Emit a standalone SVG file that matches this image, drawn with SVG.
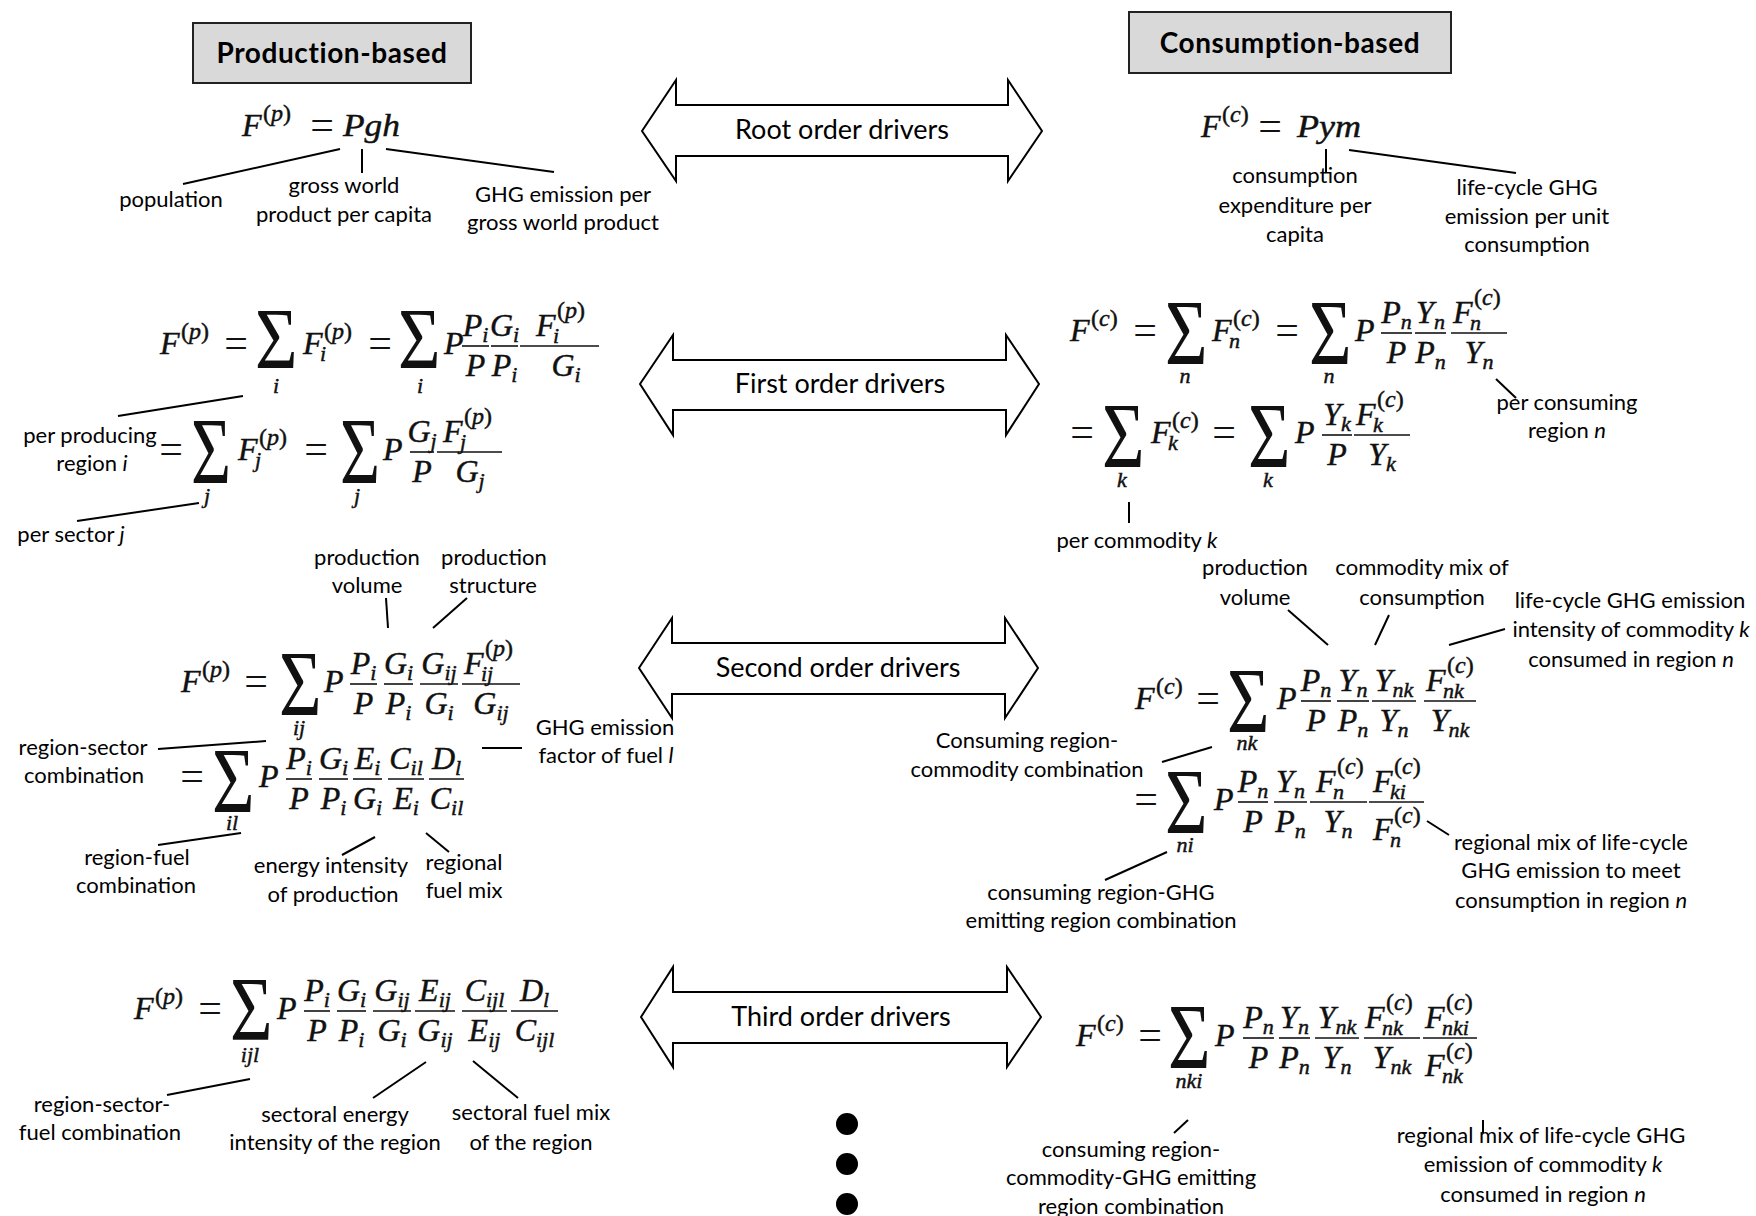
<svg xmlns="http://www.w3.org/2000/svg" width="1756" height="1216" viewBox="0 0 1756 1216">
<style>
.lbl{font-family:Lato,"Liberation Sans",sans-serif;font-size:22px;fill:#000;text-anchor:middle}
.hdr{font-family:Lato,"Liberation Sans",sans-serif;font-size:28px;font-weight:bold;letter-spacing:0.6px;fill:#000;text-anchor:middle}
.arw{font-family:Lato,"Liberation Sans",sans-serif;font-size:27px;fill:#000;text-anchor:middle}
.m{font-family:"Liberation Serif",serif;font-style:italic;font-size:32px;fill:#111;stroke:#111;stroke-width:0.45}
.s{font-size:22px}
.sp{font-size:24px}
.u{font-style:normal}
.c{text-anchor:middle}
.eq{font-family:"Liberation Serif",serif;font-size:42px;fill:#111;text-anchor:middle}
.sig{font-family:"Liberation Serif",serif;font-size:86px;fill:#111}
.fl{stroke:#111;stroke-width:1.6}
.ld{stroke:#000;stroke-width:2;fill:none}
.ar{fill:#fff;stroke:#000;stroke-width:2}
.box{fill:#d9d9d9;stroke:#222;stroke-width:2}
.it{font-style:italic}
</style>

<g id="header-production"><rect class="box" x="193" y="23" width="278" height="60"/><text class="hdr" x="332" y="63">Production-based</text></g>
<g id="header-consumption"><rect class="box" x="1129" y="12" width="322" height="61"/><text class="hdr" x="1290" y="53">Consumption-based</text></g>

<g id="arrow-root"><polygon class="ar" points="642,131 676,80 676,105 1008,105 1008,80 1042,131 1008,181 1008,156 676,156 676,181"/><text class="arw" x="842" y="139">Root order drivers</text></g>
<g id="arrow-first"><polygon class="ar" points="640,384 673,335 673,360 1006,360 1006,335 1039,384 1006,435 1006,410 673,410 673,435"/><text class="arw" x="840" y="393">First order drivers</text></g>
<g id="arrow-second"><polygon class="ar" points="639,668 672,618 672,643 1005,643 1005,618 1038,668 1005,718 1005,694 672,694 672,718"/><text class="arw" x="838" y="677">Second order drivers</text></g>
<g id="arrow-third"><polygon class="ar" points="641,1017 673,967 673,992 1007,992 1007,967 1041,1017 1007,1067 1007,1043 673,1043 673,1067"/><text class="arw" x="841" y="1026">Third order drivers</text></g>

<g id="ellipsis"><circle cx="847" cy="1124" r="11"/><circle cx="847" cy="1164" r="11"/><circle cx="847" cy="1204" r="11"/></g>

<g id="f-prod-root">
<text class="m" x="242" y="136">F</text>
<text class="m sp" x="263" y="121"><tspan class="u">(</tspan>p<tspan class="u">)</tspan></text>
<text class="eq" x="322" y="139">=</text>
<text class="m" x="343" y="136" textLength="57" lengthAdjust="spacingAndGlyphs">Pgh</text>
</g>
<g id="f-cons-root">
<text class="m" x="1201" y="137">F</text>
<text class="m sp" x="1222" y="122"><tspan class="u">(</tspan>c<tspan class="u">)</tspan></text>
<text class="eq" x="1270" y="140">=</text>
<text class="m" x="1297" y="137" textLength="64" lengthAdjust="spacingAndGlyphs">Pym</text>
</g>

<g id="f-prod-first">
<text class="m" x="160" y="354">F</text>
<text class="m sp" x="181" y="339"><tspan class="u">(</tspan>p<tspan class="u">)</tspan></text>
<text class="eq" x="236" y="357">=</text>
<text class="sig" transform="translate(255,368) scale(0.85,1)">Σ</text>
<text class="m s c" x="276" y="393">i</text>
<text class="m" x="303" y="354">F</text>
<text class="m sp" x="324" y="339"><tspan class="u">(</tspan>p<tspan class="u">)</tspan></text>
<text class="m s" x="320" y="361">i</text>
<text class="eq" x="380" y="357">=</text>
<text class="sig" transform="translate(398,368) scale(0.85,1)">Σ</text>
<text class="m s c" x="420" y="393">i</text>
<text class="m" x="444" y="354">P</text>
<line class="fl" x1="462" y1="346" x2="489" y2="346"/>
<text class="m c" x="475.5" y="336">P<tspan class="s" dy="6">i</tspan></text>
<text class="m c" x="475.5" y="376">P</text>
<line class="fl" x1="491" y1="346" x2="518" y2="346"/>
<text class="m c" x="504.5" y="336">G<tspan class="s" dy="6">i</tspan></text>
<text class="m c" x="504.5" y="376">P<tspan class="s" dy="6">i</tspan></text>
<line class="fl" x1="520" y1="346" x2="599" y2="346"/>
<text class="m" x="536" y="336">F</text>
<text class="m sp" x="557" y="318"><tspan class="u">(</tspan>p<tspan class="u">)</tspan></text>
<text class="m s" x="553" y="343">i</text>
<text class="m c" x="566" y="376">G<tspan class="s" dy="6">i</tspan></text>

<text class="eq" x="171" y="463">=</text>
<text class="sig" transform="translate(191,484) scale(0.8,1.1)">Σ</text>
<text class="m s c" x="207" y="503">j</text>
<text class="m" x="238" y="460">F</text>
<text class="m sp" x="259" y="445"><tspan class="u">(</tspan>p<tspan class="u">)</tspan></text>
<text class="m s" x="255" y="467">j</text>
<text class="eq" x="316" y="463">=</text>
<text class="sig" transform="translate(340,484) scale(0.8,1.1)">Σ</text>
<text class="m s c" x="357" y="503">j</text>
<text class="m" x="383" y="460">P</text>
<line class="fl" x1="410" y1="452" x2="434" y2="452"/>
<text class="m c" x="422" y="442">G<tspan class="s" dy="6">j</tspan></text>
<text class="m c" x="422" y="482">P</text>
<line class="fl" x1="437" y1="452" x2="502" y2="452"/>
<text class="m" x="443" y="442">F</text>
<text class="m sp" x="464" y="424"><tspan class="u">(</tspan>p<tspan class="u">)</tspan></text>
<text class="m s" x="460" y="449">j</text>
<text class="m c" x="470" y="482">G<tspan class="s" dy="6">j</tspan></text>
</g>

<g id="f-cons-first">
<text class="m" x="1070" y="341">F</text>
<text class="m sp" x="1091" y="326"><tspan class="u">(</tspan>c<tspan class="u">)</tspan></text>
<text class="eq" x="1145" y="344">=</text>
<text class="sig" transform="translate(1165,364) scale(0.85,1.08)">Σ</text>
<text class="m s c" x="1185" y="383">n</text>
<text class="m" x="1212" y="341">F</text>
<text class="m sp" x="1233" y="326"><tspan class="u">(</tspan>c<tspan class="u">)</tspan></text>
<text class="m s" x="1229" y="348">n</text>
<text class="eq" x="1287" y="344">=</text>
<text class="sig" transform="translate(1309,364) scale(0.85,1.08)">Σ</text>
<text class="m s c" x="1329" y="383">n</text>
<text class="m" x="1355" y="341">P</text>
<line class="fl" x1="1381" y1="333" x2="1412" y2="333"/>
<text class="m c" x="1396.5" y="323">P<tspan class="s" dy="6">n</tspan></text>
<text class="m c" x="1396.5" y="363">P</text>
<line class="fl" x1="1415" y1="333" x2="1446" y2="333"/>
<text class="m c" x="1430.5" y="323">Y<tspan class="s" dy="6">n</tspan></text>
<text class="m c" x="1430.5" y="363">P<tspan class="s" dy="6">n</tspan></text>
<line class="fl" x1="1451" y1="333" x2="1507" y2="333"/>
<text class="m" x="1453" y="323">F</text>
<text class="m sp" x="1474" y="305"><tspan class="u">(</tspan>c<tspan class="u">)</tspan></text>
<text class="m s" x="1470" y="330">n</text>
<text class="m c" x="1479" y="363">Y<tspan class="s" dy="6">n</tspan></text>

<text class="eq" x="1082" y="446">=</text>
<text class="sig" transform="translate(1102,467) scale(0.85,1.08)">Σ</text>
<text class="m s c" x="1122" y="487">k</text>
<text class="m" x="1151" y="443">F</text>
<text class="m sp" x="1172" y="428"><tspan class="u">(</tspan>c<tspan class="u">)</tspan></text>
<text class="m s" x="1168" y="450">k</text>
<text class="eq" x="1224" y="446">=</text>
<text class="sig" transform="translate(1248,467) scale(0.85,1.08)">Σ</text>
<text class="m s c" x="1268" y="487">k</text>
<text class="m" x="1295" y="443">P</text>
<line class="fl" x1="1322" y1="435" x2="1352" y2="435"/>
<text class="m c" x="1337" y="425">Y<tspan class="s" dy="6">k</tspan></text>
<text class="m c" x="1337" y="465">P</text>
<line class="fl" x1="1354" y1="435" x2="1410" y2="435"/>
<text class="m" x="1356" y="425">F</text>
<text class="m sp" x="1377" y="407"><tspan class="u">(</tspan>c<tspan class="u">)</tspan></text>
<text class="m s" x="1373" y="432">k</text>
<text class="m c" x="1382" y="465">Y<tspan class="s" dy="6">k</tspan></text>
</g>

<g id="f-prod-second">
<text class="m" x="181" y="692">F</text>
<text class="m sp" x="202" y="677"><tspan class="u">(</tspan>p<tspan class="u">)</tspan></text>
<text class="eq" x="256" y="695">=</text>
<text class="sig" transform="translate(279,715) scale(0.85,1.08)">Σ</text>
<text class="m s c" x="299" y="735">ij</text>
<text class="m" x="324" y="692">P</text>
<line class="fl" x1="350" y1="684" x2="377" y2="684"/>
<text class="m c" x="363.5" y="674">P<tspan class="s" dy="6">i</tspan></text>
<text class="m c" x="363.5" y="714">P</text>
<line class="fl" x1="384" y1="684" x2="413" y2="684"/>
<text class="m c" x="398.5" y="674">G<tspan class="s" dy="6">i</tspan></text>
<text class="m c" x="398.5" y="714">P<tspan class="s" dy="6">i</tspan></text>
<line class="fl" x1="420" y1="684" x2="458" y2="684"/>
<text class="m c" x="439" y="674">G<tspan class="s" dy="6">ij</tspan></text>
<text class="m c" x="439" y="714">G<tspan class="s" dy="6">i</tspan></text>
<line class="fl" x1="462" y1="684" x2="520" y2="684"/>
<text class="m" x="464" y="674">F</text>
<text class="m sp" x="485" y="656"><tspan class="u">(</tspan>p<tspan class="u">)</tspan></text>
<text class="m s" x="481" y="681">ij</text>
<text class="m c" x="491" y="714">G<tspan class="s" dy="6">ij</tspan></text>

<text class="eq" x="192" y="790">=</text>
<text class="sig" transform="translate(212,812) scale(0.85,1.08)">Σ</text>
<text class="m s c" x="232" y="830">il</text>
<text class="m" x="259" y="787">P</text>
<line class="fl" x1="286" y1="779" x2="312" y2="779"/>
<text class="m c" x="299" y="769">P<tspan class="s" dy="6">i</tspan></text>
<text class="m c" x="299" y="809">P</text>
<line class="fl" x1="319" y1="779" x2="348" y2="779"/>
<text class="m c" x="333.5" y="769">G<tspan class="s" dy="6">i</tspan></text>
<text class="m c" x="333.5" y="809">P<tspan class="s" dy="6">i</tspan></text>
<line class="fl" x1="353" y1="779" x2="382" y2="779"/>
<text class="m c" x="367.5" y="769">E<tspan class="s" dy="6">i</tspan></text>
<text class="m c" x="367.5" y="809">G<tspan class="s" dy="6">i</tspan></text>
<line class="fl" x1="388" y1="779" x2="424" y2="779"/>
<text class="m c" x="406" y="769">C<tspan class="s" dy="6">il</tspan></text>
<text class="m c" x="406" y="809">E<tspan class="s" dy="6">i</tspan></text>
<line class="fl" x1="429" y1="779" x2="464" y2="779"/>
<text class="m c" x="446.5" y="769">D<tspan class="s" dy="6">l</tspan></text>
<text class="m c" x="446.5" y="809">C<tspan class="s" dy="6">il</tspan></text>
</g>

<g id="f-cons-second">
<text class="m" x="1135" y="709">F</text>
<text class="m sp" x="1156" y="694"><tspan class="u">(</tspan>c<tspan class="u">)</tspan></text>
<text class="eq" x="1208" y="712">=</text>
<text class="sig" transform="translate(1227,732) scale(0.85,1.08)">Σ</text>
<text class="m s c" x="1247" y="750">nk</text>
<text class="m" x="1277" y="709">P</text>
<line class="fl" x1="1301" y1="701" x2="1331" y2="701"/>
<text class="m c" x="1316" y="691">P<tspan class="s" dy="6">n</tspan></text>
<text class="m c" x="1316" y="731">P</text>
<line class="fl" x1="1337" y1="701" x2="1369" y2="701"/>
<text class="m c" x="1353" y="691">Y<tspan class="s" dy="6">n</tspan></text>
<text class="m c" x="1353" y="731">P<tspan class="s" dy="6">n</tspan></text>
<line class="fl" x1="1372" y1="701" x2="1416" y2="701"/>
<text class="m c" x="1394" y="691">Y<tspan class="s" dy="6">nk</tspan></text>
<text class="m c" x="1394" y="731">Y<tspan class="s" dy="6">n</tspan></text>
<line class="fl" x1="1424" y1="701" x2="1476" y2="701"/>
<text class="m" x="1426" y="691">F</text>
<text class="m sp" x="1447" y="673"><tspan class="u">(</tspan>c<tspan class="u">)</tspan></text>
<text class="m s" x="1443" y="698">nk</text>
<text class="m c" x="1450" y="731">Y<tspan class="s" dy="6">nk</tspan></text>

<text class="eq" x="1146" y="813">=</text>
<text class="sig" transform="translate(1165,833) scale(0.85,1.08)">Σ</text>
<text class="m s c" x="1185" y="852">ni</text>
<text class="m" x="1214" y="810">P</text>
<line class="fl" x1="1238" y1="802" x2="1268" y2="802"/>
<text class="m c" x="1253" y="792">P<tspan class="s" dy="6">n</tspan></text>
<text class="m c" x="1253" y="832">P</text>
<line class="fl" x1="1274" y1="802" x2="1307" y2="802"/>
<text class="m c" x="1290.5" y="792">Y<tspan class="s" dy="6">n</tspan></text>
<text class="m c" x="1290.5" y="832">P<tspan class="s" dy="6">n</tspan></text>
<line class="fl" x1="1310" y1="802" x2="1367" y2="802"/>
<text class="m" x="1316" y="792">F</text>
<text class="m sp" x="1337" y="774"><tspan class="u">(</tspan>c<tspan class="u">)</tspan></text>
<text class="m s" x="1333" y="799">n</text>
<text class="m c" x="1338" y="832">Y<tspan class="s" dy="6">n</tspan></text>
<line class="fl" x1="1369" y1="802" x2="1424" y2="802"/>
<text class="m" x="1373" y="792">F</text>
<text class="m sp" x="1394" y="774"><tspan class="u">(</tspan>c<tspan class="u">)</tspan></text>
<text class="m s" x="1390" y="799">ki</text>
<text class="m" x="1373" y="840">F</text>
<text class="m sp" x="1394" y="823"><tspan class="u">(</tspan>c<tspan class="u">)</tspan></text>
<text class="m s" x="1390" y="847">n</text>
</g>

<g id="f-prod-third">
<text class="m" x="134" y="1019">F</text>
<text class="m sp" x="155" y="1004"><tspan class="u">(</tspan>p<tspan class="u">)</tspan></text>
<text class="eq" x="210" y="1022">=</text>
<text class="sig" transform="translate(230,1040) scale(0.85,1.05)">Σ</text>
<text class="m s c" x="250" y="1062">ijl</text>
<text class="m" x="277" y="1019">P</text>
<line class="fl" x1="304" y1="1011" x2="330" y2="1011"/>
<text class="m c" x="317" y="1001">P<tspan class="s" dy="6">i</tspan></text>
<text class="m c" x="317" y="1041">P</text>
<line class="fl" x1="337" y1="1011" x2="366" y2="1011"/>
<text class="m c" x="351.5" y="1001">G<tspan class="s" dy="6">i</tspan></text>
<text class="m c" x="351.5" y="1041">P<tspan class="s" dy="6">i</tspan></text>
<line class="fl" x1="373" y1="1011" x2="411" y2="1011"/>
<text class="m c" x="392" y="1001">G<tspan class="s" dy="6">ij</tspan></text>
<text class="m c" x="392" y="1041">G<tspan class="s" dy="6">i</tspan></text>
<line class="fl" x1="415" y1="1011" x2="455" y2="1011"/>
<text class="m c" x="435" y="1001">E<tspan class="s" dy="6">ij</tspan></text>
<text class="m c" x="435" y="1041">G<tspan class="s" dy="6">ij</tspan></text>
<line class="fl" x1="462" y1="1011" x2="507" y2="1011"/>
<text class="m c" x="484.5" y="1001">C<tspan class="s" dy="6">ijl</tspan></text>
<text class="m c" x="484.5" y="1041">E<tspan class="s" dy="6">ij</tspan></text>
<line class="fl" x1="511" y1="1011" x2="558" y2="1011"/>
<text class="m c" x="534.5" y="1001">D<tspan class="s" dy="6">l</tspan></text>
<text class="m c" x="534.5" y="1041">C<tspan class="s" dy="6">ijl</tspan></text>
</g>

<g id="f-cons-third">
<text class="m" x="1076" y="1046">F</text>
<text class="m sp" x="1097" y="1031"><tspan class="u">(</tspan>c<tspan class="u">)</tspan></text>
<text class="eq" x="1150" y="1049">=</text>
<text class="sig" transform="translate(1168,1068) scale(0.85,1.08)">Σ</text>
<text class="m s c" x="1189" y="1088">nki</text>
<text class="m" x="1215" y="1046">P</text>
<line class="fl" x1="1243" y1="1038" x2="1274" y2="1038"/>
<text class="m c" x="1258.5" y="1028">P<tspan class="s" dy="6">n</tspan></text>
<text class="m c" x="1258.5" y="1068">P</text>
<line class="fl" x1="1279" y1="1038" x2="1310" y2="1038"/>
<text class="m c" x="1294.5" y="1028">Y<tspan class="s" dy="6">n</tspan></text>
<text class="m c" x="1294.5" y="1068">P<tspan class="s" dy="6">n</tspan></text>
<line class="fl" x1="1315" y1="1038" x2="1359" y2="1038"/>
<text class="m c" x="1337" y="1028">Y<tspan class="s" dy="6">nk</tspan></text>
<text class="m c" x="1337" y="1068">Y<tspan class="s" dy="6">n</tspan></text>
<line class="fl" x1="1364" y1="1038" x2="1420" y2="1038"/>
<text class="m" x="1365" y="1028">F</text>
<text class="m sp" x="1386" y="1010"><tspan class="u">(</tspan>c<tspan class="u">)</tspan></text>
<text class="m s" x="1382" y="1035">nk</text>
<text class="m c" x="1392" y="1068">Y<tspan class="s" dy="6">nk</tspan></text>
<line class="fl" x1="1423" y1="1038" x2="1477" y2="1038"/>
<text class="m" x="1425" y="1028">F</text>
<text class="m sp" x="1446" y="1010"><tspan class="u">(</tspan>c<tspan class="u">)</tspan></text>
<text class="m s" x="1442" y="1035">nki</text>
<text class="m" x="1425" y="1076">F</text>
<text class="m sp" x="1446" y="1059"><tspan class="u">(</tspan>c<tspan class="u">)</tspan></text>
<text class="m s" x="1442" y="1083">nk</text>
</g>

<g id="labels">
<text class="lbl" x="171" y="207">population</text>
<text class="lbl" x="344" y="193">gross world</text>
<text class="lbl" x="344" y="222">product per capita</text>
<text class="lbl" x="563" y="202">GHG emission per</text>
<text class="lbl" x="563" y="230">gross world product</text>
<text class="lbl" x="1295" y="183">consumption</text>
<text class="lbl" x="1295" y="213">expenditure per</text>
<text class="lbl" x="1295" y="242">capita</text>
<text class="lbl" x="1527" y="195">life-cycle GHG</text>
<text class="lbl" x="1527" y="224">emission per unit</text>
<text class="lbl" x="1527" y="252">consumption</text>

<text class="lbl" x="90" y="443">per producing</text>
<text class="lbl" x="92" y="471">region <tspan class="it">i</tspan></text>
<text class="lbl" x="71" y="542">per sector <tspan class="it">j</tspan></text>
<text class="lbl" x="1567" y="410">per consuming</text>
<text class="lbl" x="1567" y="438">region  <tspan class="it">n</tspan></text>
<text class="lbl" x="1137" y="548">per commodity <tspan class="it">k</tspan></text>

<text class="lbl" x="367" y="565">production</text>
<text class="lbl" x="367" y="593">volume</text>
<text class="lbl" x="494" y="565">production</text>
<text class="lbl" x="493" y="593">structure</text>
<text class="lbl" x="605" y="735">GHG emission</text>
<text class="lbl" x="606" y="763">factor of fuel <tspan class="it">l</tspan></text>
<text class="lbl" x="83" y="755">region-sector</text>
<text class="lbl" x="84" y="783">combination</text>
<text class="lbl" x="137" y="865">region-fuel</text>
<text class="lbl" x="136" y="893">combination</text>
<text class="lbl" x="331" y="873">energy intensity</text>
<text class="lbl" x="333" y="902">of production</text>
<text class="lbl" x="464" y="870">regional</text>
<text class="lbl" x="464" y="898">fuel mix</text>

<text class="lbl" x="1255" y="575">production</text>
<text class="lbl" x="1255" y="605">volume</text>
<text class="lbl" x="1422" y="575">commodity mix of</text>
<text class="lbl" x="1422" y="605">consumption</text>
<text class="lbl" x="1630" y="608">life-cycle GHG emission</text>
<text class="lbl" x="1631" y="637">intensity of commodity <tspan class="it">k</tspan></text>
<text class="lbl" x="1631" y="667">consumed in region <tspan class="it">n</tspan></text>
<text class="lbl" x="1027" y="748">Consuming region-</text>
<text class="lbl" x="1027" y="777">commodity combination</text>
<text class="lbl" x="1101" y="900">consuming region-GHG</text>
<text class="lbl" x="1101" y="928">emitting region combination</text>
<text class="lbl" x="1571" y="850">regional mix of life-cycle</text>
<text class="lbl" x="1571" y="878">GHG emission to meet</text>
<text class="lbl" x="1571" y="908">consumption in region <tspan class="it">n</tspan></text>

<text class="lbl" x="102" y="1112">region-sector-</text>
<text class="lbl" x="100" y="1140">fuel combination</text>
<text class="lbl" x="335" y="1122">sectoral energy</text>
<text class="lbl" x="335" y="1150">intensity of the region</text>
<text class="lbl" x="531" y="1120">sectoral fuel mix</text>
<text class="lbl" x="531" y="1150">of the region</text>
<text class="lbl" x="1131" y="1157">consuming region-</text>
<text class="lbl" x="1131" y="1185">commodity-GHG emitting</text>
<text class="lbl" x="1131" y="1214">region combination</text>
<text class="lbl" x="1541" y="1143">regional mix of life-cycle GHG</text>
<text class="lbl" x="1543" y="1172">emission of commodity <tspan class="it">k</tspan></text>
<text class="lbl" x="1543" y="1202">consumed in region <tspan class="it">n</tspan></text>
</g>

<g id="connectors">
<line class="ld" x1="340" y1="149" x2="183" y2="184"/>
<line class="ld" x1="362" y1="149" x2="362" y2="173"/>
<line class="ld" x1="386" y1="149" x2="554" y2="172"/>
<line class="ld" x1="1326" y1="149" x2="1326" y2="173"/>
<line class="ld" x1="1349" y1="150" x2="1516" y2="173"/>
<line class="ld" x1="118" y1="416" x2="243" y2="396"/>
<line class="ld" x1="77" y1="521" x2="199" y2="503"/>
<line class="ld" x1="1496" y1="379" x2="1516" y2="398"/>
<line class="ld" x1="1129" y1="502" x2="1129" y2="523"/>
<line class="ld" x1="386" y1="598" x2="388" y2="628"/>
<line class="ld" x1="467" y1="598" x2="433" y2="628"/>
<line class="ld" x1="482" y1="748" x2="522" y2="748"/>
<line class="ld" x1="158" y1="749" x2="266" y2="741"/>
<line class="ld" x1="158" y1="845" x2="241" y2="833"/>
<line class="ld" x1="375" y1="837" x2="342" y2="855"/>
<line class="ld" x1="426" y1="833" x2="449" y2="852"/>
<line class="ld" x1="1288" y1="610" x2="1328" y2="645"/>
<line class="ld" x1="1389" y1="615" x2="1375" y2="645"/>
<line class="ld" x1="1449" y1="645" x2="1505" y2="629"/>
<line class="ld" x1="1162" y1="762" x2="1212" y2="747"/>
<line class="ld" x1="1105" y1="880" x2="1167" y2="852"/>
<line class="ld" x1="1427" y1="821" x2="1449" y2="835"/>
<line class="ld" x1="167" y1="1095" x2="250" y2="1079"/>
<line class="ld" x1="373" y1="1098" x2="426" y2="1062"/>
<line class="ld" x1="473" y1="1061" x2="518" y2="1098"/>
<line class="ld" x1="1174" y1="1133" x2="1188" y2="1120"/>
<line class="ld" x1="1483" y1="1120" x2="1483" y2="1133"/>
</g>
</svg>
